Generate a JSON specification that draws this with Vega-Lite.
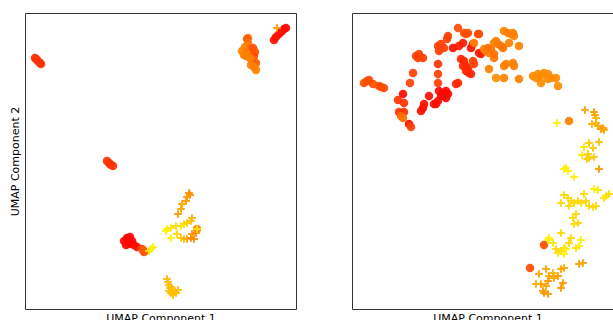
{
  "$schema": "https://vega.github.io/schema/vega-lite/v6.json",
  "padding": {"left": 8, "top": 12, "right": 0, "bottom": 0},
  "spacing": 54,
  "background": "white",
  "config": {
    "view": {"stroke": "#333", "strokeWidth": 1},
    "axis": {"labels": false, "ticks": false, "domain": false, "grid": false, "titleFont": "DejaVu Sans", "titleFontSize": 11, "titleFontWeight": "normal", "titleColor": "#000"},
    "axisX": {"titlePadding": 3},
    "axisY": {"titlePadding": 5}
  },
  "datasets": {
    "left": [
      {"x": 1.0, "y": 25.1, "v": 0.2, "m": "o"}, {"x": 1.1, "y": 25.0, "v": 0.2, "m": "o"}, {"x": 1.2, "y": 24.9, "v": 0.2, "m": "o"}, {"x": 1.4, "y": 24.7, "v": 0.2, "m": "o"}, {"x": 1.5, "y": 24.6, "v": 0.2, "m": "o"}, {"x": 1.6, "y": 24.5, "v": 0.2, "m": "o"},
      {"x": 8.2, "y": 14.8, "v": 0.2, "m": "o"}, {"x": 8.4, "y": 14.6, "v": 0.2, "m": "o"}, {"x": 8.5, "y": 14.5, "v": 0.2, "m": "o"}, {"x": 8.6, "y": 14.4, "v": 0.2, "m": "o"}, {"x": 8.8, "y": 14.3, "v": 0.2, "m": "o"},
      {"x": 24.9, "y": 26.9, "v": 0.05, "m": "o"}, {"x": 25.1, "y": 27.2, "v": 0.05, "m": "o"}, {"x": 25.4, "y": 27.5, "v": 0.08, "m": "o"}, {"x": 25.6, "y": 27.7, "v": 0.05, "m": "o"}, {"x": 25.7, "y": 27.8, "v": 0.08, "m": "o"}, {"x": 25.9, "y": 28.0, "v": 0.05, "m": "o"}, {"x": 26.1, "y": 28.1, "v": 0.05, "m": "o"},
      {"x": 22.3, "y": 27.1, "v": 0.5, "m": "o"}, {"x": 22.2, "y": 27.0, "v": 0.35, "m": "o"}, {"x": 22.3, "y": 26.6, "v": 0.45, "m": "o"}, {"x": 22.0, "y": 26.2, "v": 0.5, "m": "o"}, {"x": 21.7, "y": 25.8, "v": 0.5, "m": "o"}, {"x": 21.9, "y": 25.4, "v": 0.5, "m": "o"}, {"x": 22.4, "y": 25.8, "v": 0.45, "m": "o"}, {"x": 22.8, "y": 26.1, "v": 0.3, "m": "o"}, {"x": 23.0, "y": 25.7, "v": 0.35, "m": "o"}, {"x": 22.9, "y": 25.3, "v": 0.3, "m": "o"}, {"x": 22.5, "y": 25.1, "v": 0.5, "m": "o"}, {"x": 22.1, "y": 25.3, "v": 0.5, "m": "o"}, {"x": 22.7, "y": 24.8, "v": 0.5, "m": "o"}, {"x": 23.1, "y": 24.6, "v": 0.35, "m": "o"}, {"x": 22.6, "y": 24.4, "v": 0.5, "m": "o"}, {"x": 22.9, "y": 24.2, "v": 0.5, "m": "o"}, {"x": 23.1, "y": 23.9, "v": 0.5, "m": "o"},
      {"x": 9.9, "y": 6.8, "v": 0.02, "m": "o"}, {"x": 10.2, "y": 7.1, "v": 0.02, "m": "o"}, {"x": 10.5, "y": 7.2, "v": 0.02, "m": "o"}, {"x": 10.7, "y": 6.8, "v": 0.02, "m": "o"}, {"x": 10.4, "y": 6.5, "v": 0.02, "m": "o"}, {"x": 10.1, "y": 6.4, "v": 0.02, "m": "o"}, {"x": 10.9, "y": 6.4, "v": 0.02, "m": "o"}, {"x": 10.3, "y": 6.9, "v": 0.02, "m": "o"}, {"x": 11.2, "y": 6.2, "v": 0.05, "m": "o"},
      {"x": 11.7, "y": 6.0, "v": 0.3, "m": "o"}, {"x": 11.9, "y": 5.7, "v": 0.3, "m": "o"}, {"x": 11.8, "y": 5.9, "v": 0.35, "m": "o"},
      {"x": 17.2, "y": 8.0, "v": 0.5, "m": "o"},
      {"x": 25.2, "y": 28.1, "v": 0.6, "m": "+"},
      {"x": 12.6, "y": 6.0, "v": 0.95, "m": "+"}, {"x": 12.8, "y": 6.2, "v": 0.95, "m": "+"}, {"x": 12.4, "y": 5.8, "v": 0.9, "m": "+"},
      {"x": 16.4, "y": 11.6, "v": 0.55, "m": "+"}, {"x": 16.5, "y": 11.4, "v": 0.55, "m": "+"}, {"x": 16.2, "y": 11.2, "v": 0.6, "m": "+"}, {"x": 16.1, "y": 10.8, "v": 0.6, "m": "+"}, {"x": 15.7, "y": 10.5, "v": 0.65, "m": "+"}, {"x": 15.6, "y": 10.0, "v": 0.65, "m": "+"}, {"x": 15.3, "y": 9.5, "v": 0.6, "m": "+"},
      {"x": 16.7, "y": 9.1, "v": 0.7, "m": "+"}, {"x": 16.6, "y": 8.8, "v": 0.75, "m": "+"}, {"x": 16.2, "y": 8.6, "v": 0.8, "m": "+"}, {"x": 15.9, "y": 8.5, "v": 0.85, "m": "+"}, {"x": 15.6, "y": 8.3, "v": 0.9, "m": "+"}, {"x": 15.1, "y": 8.3, "v": 0.85, "m": "+"}, {"x": 14.6, "y": 8.1, "v": 0.9, "m": "+"}, {"x": 14.2, "y": 8.0, "v": 0.95, "m": "+"}, {"x": 14.1, "y": 7.8, "v": 0.95, "m": "+"},
      {"x": 14.6, "y": 7.1, "v": 0.95, "m": "+"},
      {"x": 15.2, "y": 7.5, "v": 0.85, "m": "+"}, {"x": 15.6, "y": 7.1, "v": 0.8, "m": "+"}, {"x": 15.9, "y": 7.0, "v": 0.75, "m": "+"}, {"x": 16.2, "y": 7.0, "v": 0.65, "m": "+"}, {"x": 16.6, "y": 7.1, "v": 0.55, "m": "+"}, {"x": 16.9, "y": 7.0, "v": 0.55, "m": "+"}, {"x": 16.7, "y": 7.5, "v": 0.6, "m": "+"}, {"x": 17.1, "y": 7.6, "v": 0.55, "m": "+"}, {"x": 17.2, "y": 8.0, "v": 0.9, "m": "+"},
      {"x": 14.2, "y": 3.0, "v": 0.75, "m": "+"}, {"x": 14.3, "y": 2.7, "v": 0.75, "m": "+"}, {"x": 14.4, "y": 2.4, "v": 0.75, "m": "+"}, {"x": 14.5, "y": 2.1, "v": 0.75, "m": "+"}, {"x": 14.7, "y": 1.9, "v": 0.75, "m": "+"}, {"x": 15.0, "y": 1.8, "v": 0.75, "m": "+"}, {"x": 14.6, "y": 1.6, "v": 0.75, "m": "+"}, {"x": 14.8, "y": 1.4, "v": 0.75, "m": "+"}, {"x": 15.1, "y": 1.6, "v": 0.75, "m": "+"}, {"x": 15.3, "y": 1.9, "v": 0.75, "m": "+"}, {"x": 14.4, "y": 1.8, "v": 0.75, "m": "+"}, {"x": 14.6, "y": 2.2, "v": 0.75, "m": "+"}
    ],
    "right": [
      {"x": 1.2, "y": 22.6, "v": 0.3, "m": "o"}, {"x": 1.5, "y": 22.8, "v": 0.3, "m": "o"}, {"x": 1.7, "y": 22.9, "v": 0.3, "m": "o"}, {"x": 2.1, "y": 22.5, "v": 0.3, "m": "o"}, {"x": 2.7, "y": 22.3, "v": 0.3, "m": "o"}, {"x": 2.9, "y": 22.2, "v": 0.3, "m": "o"}, {"x": 3.2, "y": 22.1, "v": 0.3, "m": "o"},
      {"x": 5.1, "y": 21.5, "v": 0.05, "m": "o"}, {"x": 4.6, "y": 20.9, "v": 0.2, "m": "o"}, {"x": 5.2, "y": 20.6, "v": 0.2, "m": "o"}, {"x": 4.7, "y": 19.7, "v": 0.2, "m": "o"}, {"x": 5.2, "y": 19.7, "v": 0.2, "m": "o"}, {"x": 4.9, "y": 19.3, "v": 0.4, "m": "o"}, {"x": 5.1, "y": 19.1, "v": 0.45, "m": "o"}, {"x": 5.7, "y": 18.5, "v": 0.05, "m": "o"}, {"x": 5.9, "y": 18.2, "v": 0.25, "m": "o"},
      {"x": 5.8, "y": 22.6, "v": 0.25, "m": "o"}, {"x": 6.1, "y": 23.6, "v": 0.25, "m": "o"}, {"x": 6.4, "y": 25.3, "v": 0.25, "m": "o"}, {"x": 6.7, "y": 25.5, "v": 0.25, "m": "o"}, {"x": 7.1, "y": 25.1, "v": 0.25, "m": "o"}, {"x": 6.6, "y": 25.1, "v": 0.25, "m": "o"},
      {"x": 6.9, "y": 19.8, "v": 0.05, "m": "o"}, {"x": 7.2, "y": 20.5, "v": 0.05, "m": "o"}, {"x": 7.1, "y": 20.1, "v": 0.05, "m": "o"}, {"x": 7.7, "y": 21.3, "v": 0.05, "m": "o"},
      {"x": 8.2, "y": 20.5, "v": 0.05, "m": "o"}, {"x": 8.6, "y": 20.8, "v": 0.05, "m": "o"}, {"x": 8.4, "y": 20.5, "v": 0.05, "m": "o"},
      {"x": 8.7, "y": 21.8, "v": 0.02, "m": "o"}, {"x": 9.1, "y": 21.6, "v": 0.02, "m": "o"}, {"x": 9.4, "y": 21.8, "v": 0.02, "m": "o"}, {"x": 9.2, "y": 21.3, "v": 0.02, "m": "o"}, {"x": 8.9, "y": 21.3, "v": 0.02, "m": "o"}, {"x": 9.4, "y": 21.1, "v": 0.02, "m": "o"}, {"x": 9.6, "y": 21.5, "v": 0.02, "m": "o"},
      {"x": 10.4, "y": 22.5, "v": 0.15, "m": "o"}, {"x": 10.6, "y": 22.6, "v": 0.15, "m": "o"},
      {"x": 8.6, "y": 22.6, "v": 0.25, "m": "o"}, {"x": 8.6, "y": 23.5, "v": 0.25, "m": "o"}, {"x": 8.6, "y": 24.5, "v": 0.2, "m": "o"},
      {"x": 8.7, "y": 25.8, "v": 0.25, "m": "o"}, {"x": 8.6, "y": 26.3, "v": 0.25, "m": "o"}, {"x": 8.9, "y": 26.5, "v": 0.25, "m": "o"}, {"x": 9.2, "y": 26.1, "v": 0.25, "m": "o"},
      {"x": 9.6, "y": 27.3, "v": 0.25, "m": "o"}, {"x": 9.5, "y": 27.0, "v": 0.25, "m": "o"},
      {"x": 10.1, "y": 26.1, "v": 0.05, "m": "o"}, {"x": 10.6, "y": 28.1, "v": 0.3, "m": "o"},
      {"x": 10.9, "y": 25.0, "v": 0.15, "m": "o"}, {"x": 11.2, "y": 24.8, "v": 0.15, "m": "o"}, {"x": 11.4, "y": 24.3, "v": 0.15, "m": "o"}, {"x": 11.6, "y": 24.0, "v": 0.15, "m": "o"}, {"x": 11.7, "y": 23.6, "v": 0.15, "m": "o"}, {"x": 11.9, "y": 23.5, "v": 0.15, "m": "o"}, {"x": 11.1, "y": 24.3, "v": 0.15, "m": "o"}, {"x": 11.4, "y": 23.8, "v": 0.15, "m": "o"},
      {"x": 10.7, "y": 26.3, "v": 0.1, "m": "o"}, {"x": 11.1, "y": 26.6, "v": 0.1, "m": "o"},
      {"x": 11.4, "y": 27.5, "v": 0.3, "m": "o"}, {"x": 11.6, "y": 27.6, "v": 0.3, "m": "o"}, {"x": 11.2, "y": 27.6, "v": 0.3, "m": "o"},
      {"x": 12.1, "y": 24.8, "v": 0.25, "m": "o"}, {"x": 12.2, "y": 24.5, "v": 0.25, "m": "o"},
      {"x": 12.1, "y": 26.5, "v": 0.05, "m": "o"}, {"x": 11.9, "y": 26.1, "v": 0.05, "m": "o"}, {"x": 12.2, "y": 26.6, "v": 0.5, "m": "o"},
      {"x": 12.6, "y": 27.5, "v": 0.3, "m": "o"}, {"x": 12.7, "y": 27.5, "v": 0.3, "m": "o"},
      {"x": 12.7, "y": 25.6, "v": 0.1, "m": "o"}, {"x": 12.9, "y": 25.5, "v": 0.1, "m": "o"},
      {"x": 13.2, "y": 26.0, "v": 0.5, "m": "o"}, {"x": 13.4, "y": 25.8, "v": 0.5, "m": "o"}, {"x": 13.7, "y": 25.6, "v": 0.5, "m": "o"},
      {"x": 13.6, "y": 26.1, "v": 0.45, "m": "o"}, {"x": 13.9, "y": 26.0, "v": 0.45, "m": "o"}, {"x": 14.2, "y": 25.5, "v": 0.45, "m": "o"},
      {"x": 13.7, "y": 24.0, "v": 0.5, "m": "o"}, {"x": 14.2, "y": 25.1, "v": 0.45, "m": "o"}, {"x": 14.4, "y": 23.1, "v": 0.55, "m": "o"},
      {"x": 14.2, "y": 26.6, "v": 0.5, "m": "o"}, {"x": 14.4, "y": 26.8, "v": 0.5, "m": "o"}, {"x": 14.6, "y": 26.5, "v": 0.5, "m": "o"},
      {"x": 15.2, "y": 24.3, "v": 0.5, "m": "o"}, {"x": 15.4, "y": 24.5, "v": 0.5, "m": "o"}, {"x": 16.2, "y": 24.3, "v": 0.5, "m": "o"}, {"x": 16.1, "y": 24.6, "v": 0.5, "m": "o"},
      {"x": 15.2, "y": 23.1, "v": 0.5, "m": "o"},
      {"x": 15.2, "y": 27.8, "v": 0.5, "m": "o"}, {"x": 15.6, "y": 27.6, "v": 0.5, "m": "o"}, {"x": 15.9, "y": 27.5, "v": 0.5, "m": "o"}, {"x": 16.2, "y": 27.3, "v": 0.5, "m": "o"}, {"x": 16.1, "y": 27.6, "v": 0.5, "m": "o"},
      {"x": 15.7, "y": 26.6, "v": 0.5, "m": "o"}, {"x": 15.1, "y": 26.1, "v": 0.45, "m": "o"}, {"x": 14.9, "y": 26.3, "v": 0.45, "m": "o"},
      {"x": 16.7, "y": 26.3, "v": 0.5, "m": "o"}, {"x": 16.7, "y": 23.0, "v": 0.5, "m": "o"},
      {"x": 18.1, "y": 23.3, "v": 0.55, "m": "o"}, {"x": 18.4, "y": 23.1, "v": 0.55, "m": "o"}, {"x": 18.6, "y": 23.5, "v": 0.55, "m": "o"}, {"x": 18.9, "y": 23.3, "v": 0.55, "m": "o"}, {"x": 19.2, "y": 23.6, "v": 0.55, "m": "o"}, {"x": 19.6, "y": 23.5, "v": 0.55, "m": "o"}, {"x": 19.9, "y": 23.1, "v": 0.55, "m": "o"}, {"x": 20.4, "y": 23.1, "v": 0.55, "m": "o"}, {"x": 18.9, "y": 22.6, "v": 0.55, "m": "o"}, {"x": 19.6, "y": 23.0, "v": 0.55, "m": "o"}, {"x": 20.6, "y": 22.3, "v": 0.55, "m": "o"},
      {"x": 21.7, "y": 18.8, "v": 0.5, "m": "o"}, {"x": 19.2, "y": 6.4, "v": 0.3, "m": "o"}, {"x": 17.8, "y": 4.1, "v": 0.3, "m": "o"},
      {"x": 20.5, "y": 18.6, "v": 0.95, "m": "+"},
      {"x": 23.3, "y": 19.9, "v": 0.65, "m": "+"}, {"x": 24.2, "y": 19.7, "v": 0.6, "m": "+"}, {"x": 24.3, "y": 19.4, "v": 0.65, "m": "+"}, {"x": 24.4, "y": 19.1, "v": 0.7, "m": "+"}, {"x": 24.0, "y": 18.5, "v": 0.7, "m": "+"}, {"x": 24.6, "y": 18.3, "v": 0.65, "m": "+"}, {"x": 24.9, "y": 18.0, "v": 0.6, "m": "+"}, {"x": 25.1, "y": 18.1, "v": 0.6, "m": "+"}, {"x": 25.2, "y": 17.9, "v": 0.65, "m": "+"}, {"x": 24.4, "y": 18.6, "v": 0.7, "m": "+"},
      {"x": 23.7, "y": 16.6, "v": 0.8, "m": "+"}, {"x": 23.2, "y": 16.2, "v": 0.9, "m": "+"}, {"x": 24.1, "y": 16.1, "v": 0.8, "m": "+"}, {"x": 24.7, "y": 16.7, "v": 0.75, "m": "+"}, {"x": 23.0, "y": 15.4, "v": 0.9, "m": "+"}, {"x": 23.6, "y": 15.5, "v": 0.8, "m": "+"}, {"x": 23.7, "y": 15.1, "v": 0.8, "m": "+"}, {"x": 24.2, "y": 15.2, "v": 0.8, "m": "+"}, {"x": 23.5, "y": 15.0, "v": 0.8, "m": "+"},
      {"x": 24.7, "y": 14.0, "v": 0.6, "m": "+"},
      {"x": 21.2, "y": 14.0, "v": 0.95, "m": "+"}, {"x": 21.6, "y": 13.8, "v": 0.95, "m": "+"}, {"x": 21.4, "y": 14.1, "v": 0.95, "m": "+"}, {"x": 22.2, "y": 13.2, "v": 0.95, "m": "+"},
      {"x": 24.2, "y": 12.0, "v": 0.95, "m": "+"}, {"x": 24.6, "y": 11.9, "v": 0.9, "m": "+"}, {"x": 25.4, "y": 11.3, "v": 0.9, "m": "+"}, {"x": 25.7, "y": 11.5, "v": 0.85, "m": "+"}, {"x": 25.2, "y": 11.1, "v": 0.9, "m": "+"}, {"x": 26.2, "y": 11.5, "v": 0.9, "m": "+"},
      {"x": 21.2, "y": 11.4, "v": 0.85, "m": "+"}, {"x": 21.6, "y": 11.1, "v": 0.85, "m": "+"}, {"x": 21.9, "y": 10.8, "v": 0.85, "m": "+"}, {"x": 22.2, "y": 10.6, "v": 0.85, "m": "+"}, {"x": 22.6, "y": 10.8, "v": 0.85, "m": "+"}, {"x": 22.9, "y": 10.6, "v": 0.85, "m": "+"}, {"x": 23.2, "y": 11.5, "v": 0.85, "m": "+"}, {"x": 23.4, "y": 10.8, "v": 0.85, "m": "+"}, {"x": 23.7, "y": 10.3, "v": 0.85, "m": "+"}, {"x": 24.1, "y": 10.2, "v": 0.85, "m": "+"}, {"x": 24.4, "y": 10.3, "v": 0.85, "m": "+"}, {"x": 21.7, "y": 10.3, "v": 0.85, "m": "+"}, {"x": 20.9, "y": 10.6, "v": 0.85, "m": "+"},
      {"x": 22.4, "y": 9.5, "v": 0.85, "m": "+"}, {"x": 22.1, "y": 9.1, "v": 0.85, "m": "+"}, {"x": 22.6, "y": 8.6, "v": 0.85, "m": "+"}, {"x": 22.2, "y": 8.5, "v": 0.85, "m": "+"},
      {"x": 19.7, "y": 7.1, "v": 0.95, "m": "+"}, {"x": 19.6, "y": 6.9, "v": 0.95, "m": "+"}, {"x": 20.9, "y": 7.6, "v": 0.85, "m": "+"}, {"x": 21.9, "y": 7.1, "v": 0.85, "m": "+"}, {"x": 21.7, "y": 6.6, "v": 0.85, "m": "+"}, {"x": 22.9, "y": 6.9, "v": 0.95, "m": "+"}, {"x": 22.7, "y": 6.3, "v": 0.95, "m": "+"}, {"x": 22.4, "y": 6.1, "v": 0.9, "m": "+"}, {"x": 20.4, "y": 6.0, "v": 0.85, "m": "+"}, {"x": 20.9, "y": 5.8, "v": 0.85, "m": "+"}, {"x": 21.4, "y": 6.0, "v": 0.95, "m": "+"}, {"x": 21.2, "y": 5.5, "v": 0.95, "m": "+"}, {"x": 20.6, "y": 5.6, "v": 0.9, "m": "+"}, {"x": 20.1, "y": 6.6, "v": 0.9, "m": "+"}, {"x": 21.2, "y": 6.1, "v": 0.9, "m": "+"},
      {"x": 22.7, "y": 4.5, "v": 0.65, "m": "+"}, {"x": 23.1, "y": 4.6, "v": 0.65, "m": "+"},
      {"x": 18.7, "y": 3.5, "v": 0.65, "m": "+"}, {"x": 19.4, "y": 4.0, "v": 0.65, "m": "+"}, {"x": 20.1, "y": 3.6, "v": 0.7, "m": "+"}, {"x": 20.9, "y": 4.0, "v": 0.65, "m": "+"}, {"x": 21.2, "y": 4.1, "v": 0.65, "m": "+"}, {"x": 20.6, "y": 3.3, "v": 0.6, "m": "+"}, {"x": 19.7, "y": 3.3, "v": 0.65, "m": "+"}, {"x": 20.2, "y": 3.1, "v": 0.65, "m": "+"}, {"x": 19.6, "y": 2.8, "v": 0.6, "m": "+"}, {"x": 18.4, "y": 2.5, "v": 0.7, "m": "+"}, {"x": 18.9, "y": 2.5, "v": 0.65, "m": "+"}, {"x": 19.4, "y": 2.3, "v": 0.65, "m": "+"}, {"x": 21.1, "y": 2.6, "v": 0.6, "m": "+"}, {"x": 20.9, "y": 2.1, "v": 0.6, "m": "+"}, {"x": 19.2, "y": 1.6, "v": 0.6, "m": "+"}, {"x": 19.6, "y": 1.5, "v": 0.6, "m": "+"}, {"x": 19.1, "y": 1.8, "v": 0.6, "m": "+"}
    ]
  },
  "hconcat": [
    {
      "width": 271,
      "height": 296,
      "data": {"name": "left"},
      "encoding": {
        "x": {"field": "x", "type": "quantitative", "scale": {"domain": [0, 27.1], "nice": false, "zero": false}, "axis": {"title": "UMAP Component 1"}},
        "y": {"field": "y", "type": "quantitative", "scale": {"domain": [0, 29.6], "nice": false, "zero": false}, "axis": {"title": "UMAP Component 2"}},
        "color": {"field": "v", "type": "quantitative", "scale": {"domain": [0, 1], "range": ["#ff0000", "#ffff00"], "interpolate": "rgb"}, "legend": null}
      },
      "layer": [
        {"transform": [{"filter": "datum.m == 'o'"}], "mark": {"type": "point", "shape": "circle", "filled": true, "size": 72, "opacity": 0.92}},
        {"transform": [{"filter": "datum.m == '+'"}], "mark": {"type": "point", "shape": "M-1,0H1M0,-1V1", "filled": false, "size": 60, "strokeWidth": 2, "opacity": 0.92}}
      ]
    },
    {
      "width": 271,
      "height": 296,
      "data": {"name": "right"},
      "encoding": {
        "x": {"field": "x", "type": "quantitative", "scale": {"domain": [0, 27.1], "nice": false, "zero": false}, "axis": {"title": "UMAP Component 1"}},
        "y": {"field": "y", "type": "quantitative", "scale": {"domain": [0, 29.6], "nice": false, "zero": false}, "axis": null},
        "color": {"field": "v", "type": "quantitative", "scale": {"domain": [0, 1], "range": ["#ff0000", "#ffff00"], "interpolate": "rgb"}, "legend": null}
      },
      "layer": [
        {"transform": [{"filter": "datum.m == 'o'"}], "mark": {"type": "point", "shape": "circle", "filled": true, "size": 72, "opacity": 0.92}},
        {"transform": [{"filter": "datum.m == '+'"}], "mark": {"type": "point", "shape": "M-1,0H1M0,-1V1", "filled": false, "size": 60, "strokeWidth": 2, "opacity": 0.92}}
      ]
    }
  ]
}
